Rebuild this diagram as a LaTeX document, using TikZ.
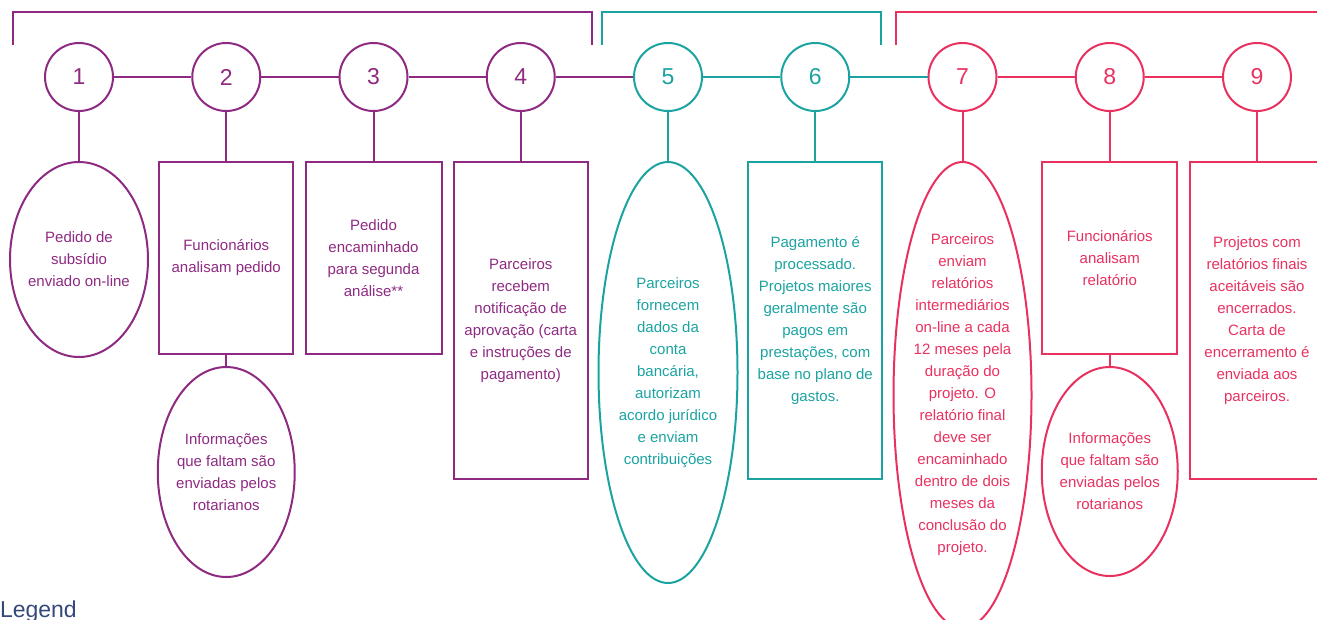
\documentclass[tikz,border=0pt]{standalone}
\usepackage{xcolor}
\usepackage{fontspec}
\setmainfont{Liberation Sans}
\usepackage{tikz}
\usetikzlibrary{positioning}
\usetikzlibrary{shapes.geometric}
\definecolor{grpA}{HTML}{8E2A82}
\definecolor{grpB}{HTML}{1BA3A1}
\definecolor{grpC}{HTML}{E8315F}
\definecolor{legendblue}{HTML}{34497A}

\begin{document}
\begin{tikzpicture}[x=1pt,y=-1pt,line width=2pt,node distance=147.25pt,
  numcirc/.style={circle,draw,minimum size=68pt,inner sep=0pt,font=\fontsize{23}{23}\selectfont},
  stepbox/.style={rectangle,draw,inner sep=0pt,align=center,font=\fontsize{15}{22}\selectfont},
  stepoval/.style={ellipse,draw,inner sep=0pt,inner xsep=-4pt,align=center,font=\fontsize{15}{22}\selectfont}]
  \useasboundingbox (0,0) rectangle (1317,619);
  % numbered steps
  \node (N1) [numcirc,grpA] at (79,77) {1};
  \node (N2) [numcirc,grpA,right of=N1] {2};
  \node (N3) [numcirc,grpA,right of=N2] {3};
  \node (N4) [numcirc,grpA,right of=N3] {4};
  \node (N5) [numcirc,grpB,right of=N4] {5};
  \node (N6) [numcirc,grpB,right of=N5] {6};
  \node (N7) [numcirc,grpC,right of=N6] {7};
  \node (N8) [numcirc,grpC,right of=N7] {8};
  \node (N9) [numcirc,grpC,right of=N8] {9};
  % what happens at each step
  \node (S1) [stepoval,grpA,minimum width=138pt,minimum height=195pt,below=49pt of N1] {Pedido de\\subsídio\\enviado on-line};
  \node (S2) [stepbox,grpA,minimum width=134pt,minimum height=192pt,below=49pt of N2] {Funcionários\\analisam pedido};
  \node (I2) [stepoval,grpA,minimum width=137pt,minimum height=210pt,below=11pt of S2] {Informações\\que faltam são\\enviadas pelos\\rotarianos};
  \node (S3) [stepbox,grpA,minimum width=136pt,minimum height=192pt,below=49pt of N3] {Pedido\\encaminhado\\para segunda\\análise**};
  \node (S4) [stepbox,grpA,minimum width=134pt,minimum height=317pt,below=49pt of N4] {Parceiros\\recebem\\notificação de\\aprovação (carta\\e instruções de\\pagamento)};
  \node (S5) [stepoval,grpB,minimum width=139pt,minimum height=421pt,below=49pt of N5] {Parceiros\\fornecem\\dados da\\conta\\bancária,\\autorizam\\acordo jurídico\\e enviam\\contribuições};
  \node (S6) [stepbox,grpB,minimum width=134pt,minimum height=317pt,below=49pt of N6] {Pagamento é\\processado.\\Projetos maiores\\geralmente são\\pagos em\\prestações, com\\base no plano de\\gastos.};
  \node (S7) [stepoval,grpC,minimum width=138pt,minimum height=466pt,below=49pt of N7] {Parceiros\\enviam\\relatórios\\intermediários\\on-line a cada\\12 meses pela\\duração do\\projeto. O\\relatório final\\deve ser\\encaminhado\\dentro de dois\\meses da\\conclusão do\\projeto.};
  \node (S8) [stepbox,grpC,minimum width=135pt,minimum height=192pt,below=49pt of N8] {Funcionários\\analisam\\relatório};
  \node (I8) [stepoval,grpC,minimum width=136pt,minimum height=209pt,below=11pt of S8] {Informações\\que faltam são\\enviadas pelos\\rotarianos};
  \node (S9) [stepbox,grpC,minimum width=134pt,minimum height=317pt,below=49pt of N9] {Projetos com\\relatórios finais\\aceitáveis são\\encerrados.\\Carta de\\encerramento é\\enviada aos\\parceiros.};
\path[grpA] (N1) edge (N2) (N2) edge (N3) (N3) edge (N4) (N4) edge (N5)
  (N1) edge (S1) (N2) edge (S2) (S2) edge (I2) (N3) edge (S3) (N4) edge (S4);
\path[grpB] (N5) edge (N6) (N6) edge (N7)
  (N5) edge (S5) (N6) edge (S6);
\path[grpC] (N7) edge (N8) (N8) edge (N9)
  (N7) edge (S7) (N8) edge (S8) (S8) edge (I8) (N9) edge (S9);
	% Draw brackets
    \draw[grpA] (13,45) |- (592,12) -- (592,45);
    \draw[grpB] (602,45) |- (881,12) -- (881,45);
    \draw[grpC] (896,45) |- (1330,12);
  \node (L) [anchor=base west,inner sep=0pt,text=legendblue,font=\fontsize{23}{23}\selectfont] at (-1,617) {Legend};
\end{tikzpicture}
\end{document}
